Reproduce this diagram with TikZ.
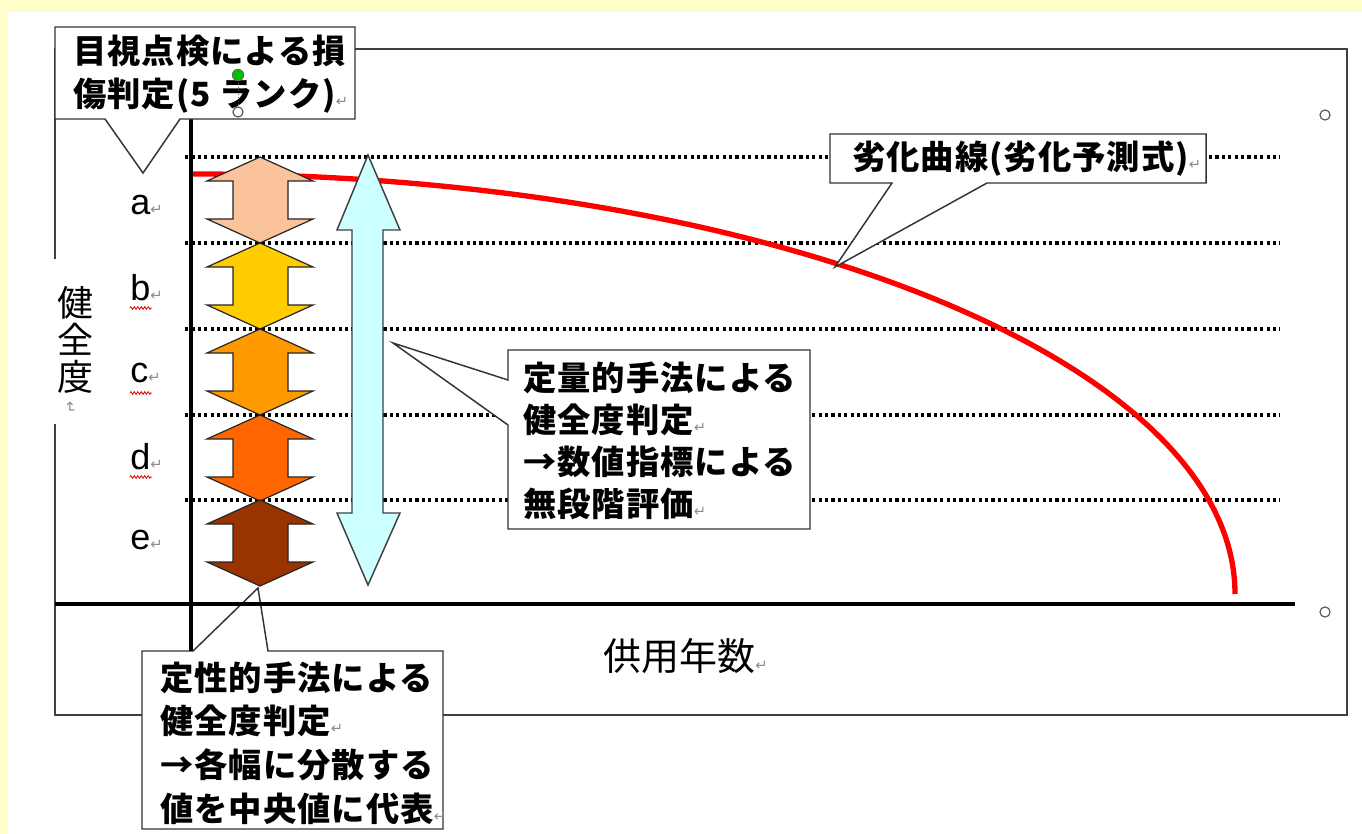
\documentclass[tikz,border=0pt]{standalone}
\usepackage{fontspec}
\setmainfont{Liberation Sans}
\newfontfamily\jp{Noto Sans CJK JP}
\newfontfamily\jpsp{Noto Sans CJK JP}[LetterSpace=3]
\newfontfamily\dv{DejaVu Sans}
\usetikzlibrary{decorations.pathmorphing}
\definecolor{bgyel}{HTML}{FFFFCC}
\definecolor{lva}{HTML}{FAC39C}
\definecolor{lvb}{HTML}{FFCC00}
\definecolor{lvc}{HTML}{FF9900}
\definecolor{lvd}{HTML}{FF6600}
\definecolor{lve}{HTML}{993300}
\definecolor{cyanfill}{HTML}{CCFFFF}
\newcommand{\rmk}{{\dv\mdseries\fontsize{11}{11}\selectfont\textcolor{black!45}{↵}}}
\newcommand{\lvlarrow}[2]{%
  \draw[lvl, fill=#2] (260,#1) -- (313,{#1+24}) -- (288,{#1+24}) -- (288,{#1+62}) -- (313,{#1+62})
    -- (260,{#1+86}) -- (207,{#1+62}) -- (233,{#1+62}) -- (233,{#1+24}) -- (207,{#1+24}) -- cycle;}
\begin{document}
\begin{tikzpicture}[x=0.75pt,y=-0.75pt,
  callout/.style={draw=black!80, line width=1.1pt, fill=white, line join=miter},
  ctext/.style={inner sep=0pt, anchor=west, align=left, font=\jpsp\bfseries\fontsize{25}{32.5}\selectfont},
  dotline/.style={line width=2.4pt, dash pattern=on 2.4pt off 2.4pt},
  axisline/.style={line width=3pt},
  lvl/.style={draw=black!85, line width=0.9pt, line join=miter},
  lbl/.style={inner sep=0pt, anchor=west, font=\fontsize{27}{27}\selectfont},
  squig/.style={draw=red!85!black, line width=0.6pt, decorate, decoration={zigzag, segment length=2.6pt, amplitude=1pt}},
  handle/.style={draw=black!70, line width=0.8pt, fill=white}
]
\fill[bgyel] (0,0) rectangle (1362,834);
\fill[white] (8,12) rectangle (1362,834);
\useasboundingbox (0,0) rectangle (1362,834);

% frame
\draw[black!75, line width=1.1pt] (55,49) rectangle (1347,715);

% dotted level lines
\foreach \yy in {157,243,329,415,500} \draw[dotline] (185,\yy) -- (1280,\yy);

% deterioration curve
\coordinate (cstart) at (193,174);
\draw[red, line width=4pt] (cstart) arc[start angle=90, end angle=0, x radius=781.5pt, y radius=315pt] coordinate (cend);

% callout 4 (under the axes)
\coordinate (tipD) at (258,588);
\draw[callout] (142,651) -- (193,651) -- (tipD) -- (268,651) -- (443,651) -- (443,829) -- (142,829) -- cycle;

% axes
\coordinate (yTop) at (191,119);
\coordinate (yBot) at (191,651);
\coordinate (xL) at (55,604);
\coordinate (xR) at (1295,604);
\draw[axisline] (yTop) -- (yBot);
\draw[axisline] (xL) -- (xR);

% level arrows
\lvlarrow{157}{lva}
\lvlarrow{243}{lvb}
\lvlarrow{329}{lvc}
\lvlarrow{415}{lvd}
\lvlarrow{500}{lve}

% cyan double arrow
\draw[draw=black!75, line width=1.1pt, fill=cyanfill, line join=miter]
  (368,155) -- (400,230) -- (383,230) -- (383,513) -- (400,513) -- (368,585)
  -- (337,513) -- (352,513) -- (352,230) -- (337,230) -- cycle;

% callout 1
\coordinate (tipA) at (143,173);
\draw[callout] (55,27) -- (355,27) -- (355,119) -- (180,119) -- (tipA) -- (105,119) -- (55,119) -- cycle;
\node[ctext] (t1) at (73,74) {目視点検による損\\傷判定(5 ランク)\rmk};

% callout 2
\coordinate (tipB) at (835,267);
\draw[callout] (830,134) -- (1206,134) -- (1206,183) -- (987,183) -- (tipB) -- (892,183) -- (830,183) -- cycle;
\node[ctext] (t2) at (852,159) {劣化曲線(劣化予測式)\rmk};

% callout 3
\coordinate (tipC) at (393,343);
\draw[callout] (508,350) -- (810,350) -- (810,529) -- (508,529) -- (508,425) -- (tipC) -- (508,380) -- cycle;
\node[ctext, font=\jpsp\bfseries\fontsize{25}{31.5}\selectfont] (t3) at (523,441) {定量的手法による\\健全度判定\rmk\\→数値指標による\\無段階評価\rmk};

% callout 4 text
\node[ctext, font=\jpsp\bfseries\fontsize{25}{32.8}\selectfont] (t4) at (160,743) {定性的手法による\\健全度判定\rmk\\→各幅に分散する\\値を中央値に代表\rmk};

% level labels
\node[lbl] (la) at (130,205) {a\rmk};
\node[lbl] (lb) at (130,288) {b\rmk};
\node[lbl] (lc) at (130,373) {c\rmk};
\node[lbl] (ld) at (130,457) {d\rmk};
\node[lbl] (le) at (130,540) {e\rmk};
\draw[squig] (130,308) -- (152,308);
\draw[squig] (130,393) -- (152,393);
\draw[squig] (130,477) -- (152,477);

% vertical axis label
\fill[white] (45,259) rectangle (100,424);
\node[inner sep=0pt, align=center, font=\jp\fontsize{27}{27.8}\selectfont] (ylab) at (75,340) {健\\全\\度};
\node[inner sep=0pt, rotate=-90] (ymark) at (70,408) {\rmk};

% horizontal axis label
\node[inner sep=0pt, anchor=west, font=\jp\fontsize{28.5}{30}\selectfont] (xlab) at (603,656) {供用年数\rmk};

% selection handles
\draw[handle] (1325,115) circle[radius=3.8pt];
\draw[handle] (1325,612) circle[radius=3.8pt];
\draw[black!60, line width=0.6pt, dotted] (238,80) -- (238,108);
\draw[black!60, line width=0.6pt, fill=green!75!black] (238,75) circle[radius=4.3pt];
\draw[handle] (238,112) circle[radius=3.8pt];
\end{tikzpicture}
\end{document}
